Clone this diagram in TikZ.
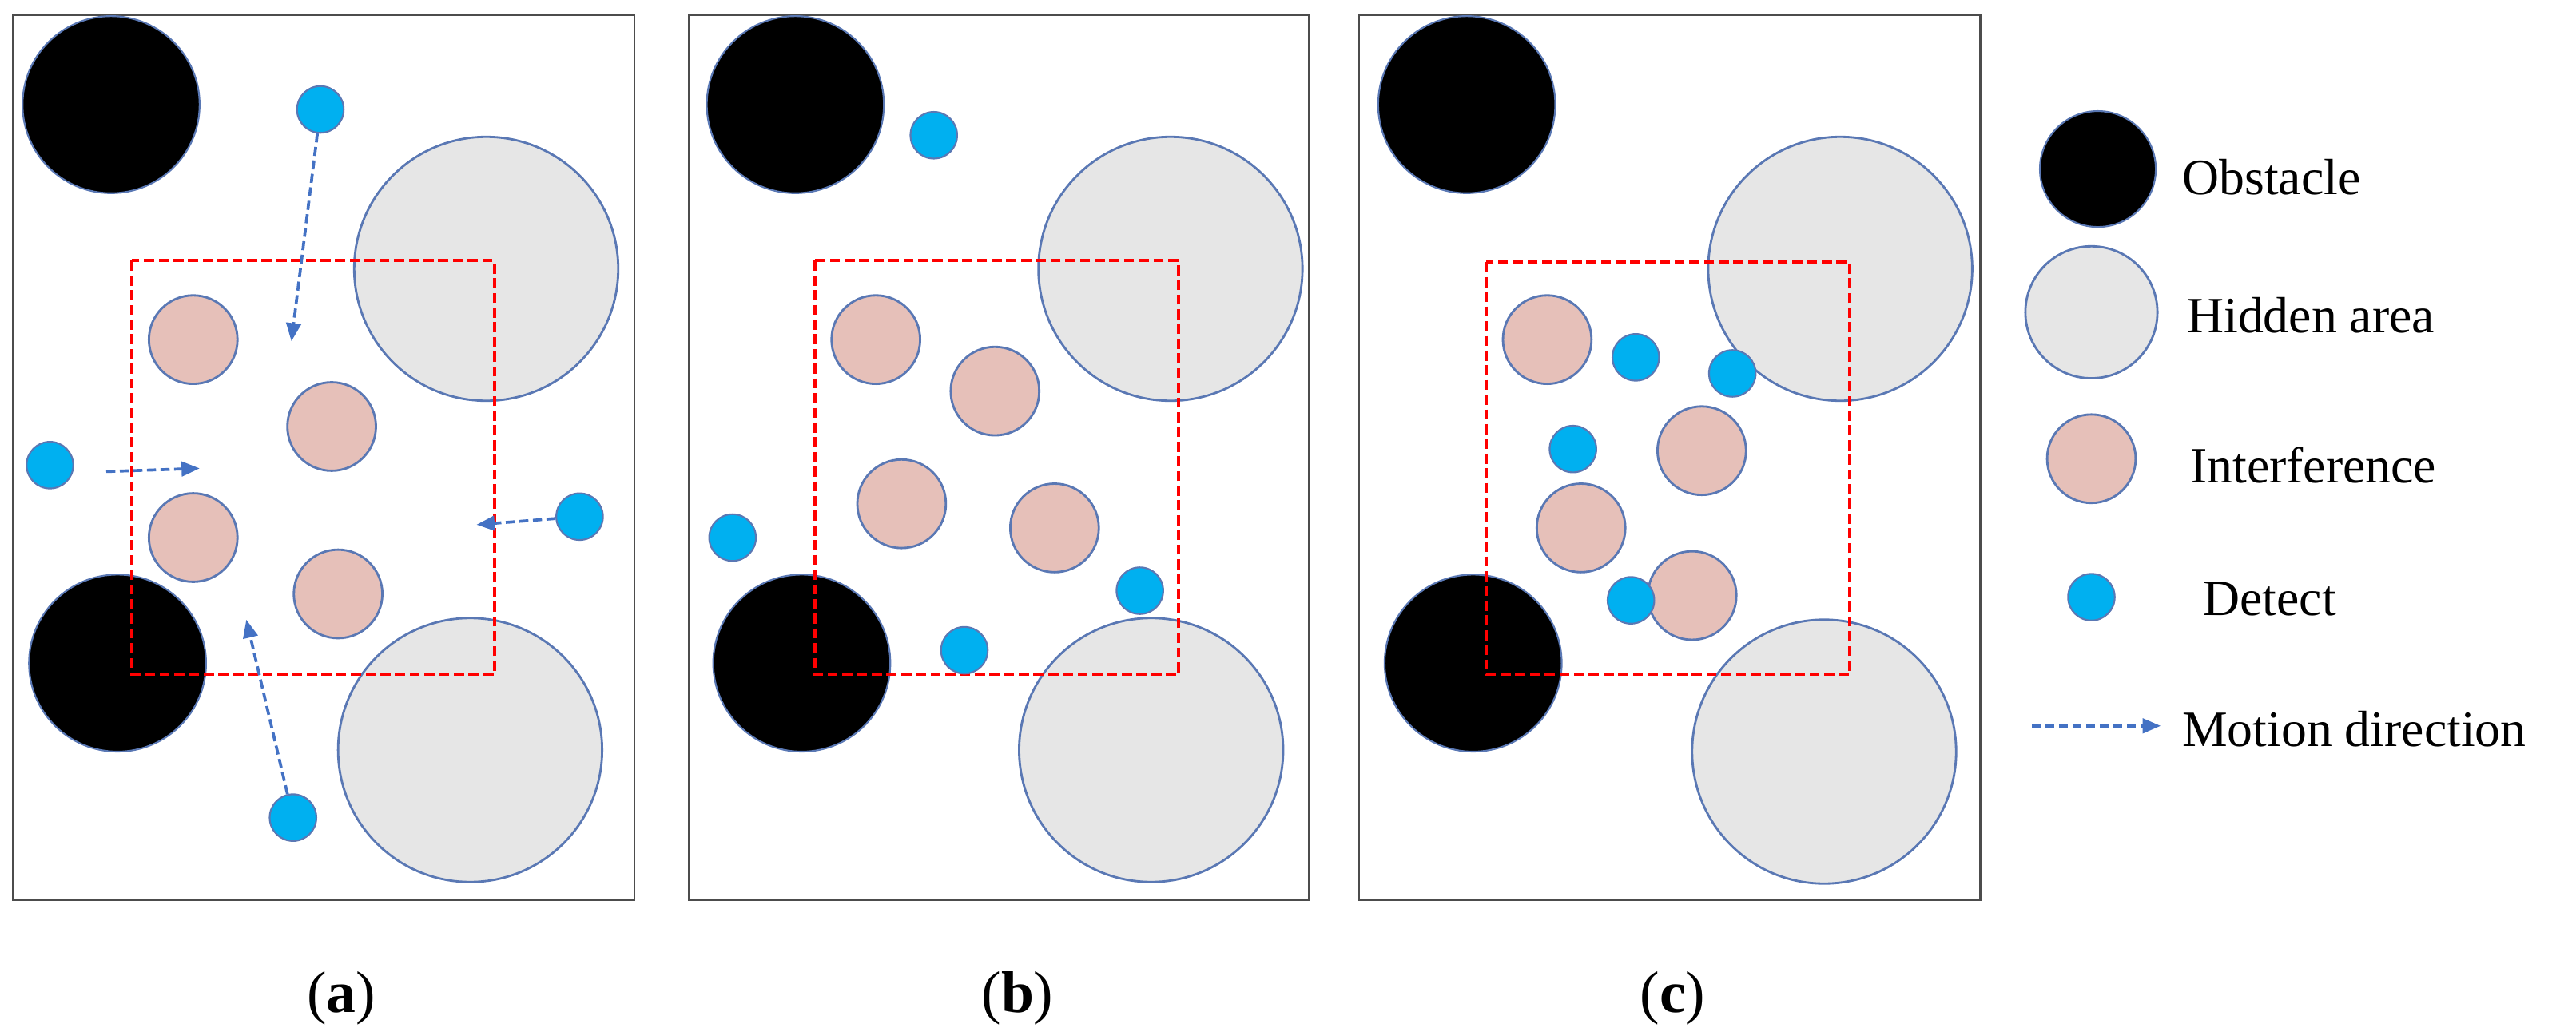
\documentclass[tikz,border=0pt]{standalone}
\usepackage{fontspec}
\setmainfont{Liberation Serif}
\usetikzlibrary{arrows.meta}
\definecolor{detblue}{HTML}{00B0F0}
\definecolor{edgeblue}{HTML}{5A78B4}
\definecolor{pinkish}{HTML}{E6C0B9}
\definecolor{lightgray}{HTML}{E6E6E6}
\definecolor{arrowblue}{HTML}{4472C4}
\begin{document}
\begin{tikzpicture}[x=0.05cm,y=-0.05cm,
	panel/.style={draw=black!70, line width=2pt},
	obstacle/.style={circle, fill=black, draw=edgeblue, line width=1.5pt, inner sep=0pt, minimum size=110*0.05cm},
	hidden/.style={circle, fill=lightgray, draw=edgeblue, line width=2pt, inner sep=0pt, minimum size=164*0.05cm},
	interf/.style={circle, fill=pinkish, draw=edgeblue, line width=2pt, inner sep=0pt, minimum size=55*0.05cm},
	detect/.style={circle, fill=detblue, draw=edgeblue, line width=1.5pt, inner sep=0pt, minimum size=29*0.05cm},
	zone/.style={draw=red, line width=2.8pt, dash pattern=on 9pt off 4pt},
	motion/.style={draw=arrowblue, line width=2.6pt, dash pattern=on 8pt off 4pt, -{Triangle[length=16pt,width=13pt]}},
	legend text/.style={anchor=west, font=\fontsize{45}{52}\selectfont},
	caption/.style={font=\fontsize{52}{60}\selectfont}]
	\useasboundingbox (0,0) rectangle (1600,643.6);

	% panel (a)
	\draw[panel] (8,9) rectangle (394,559);
	\node[obstacle] (a-o1) at (69,65) {};
	\node[obstacle] (a-o2) at (73,412) {};
	\node[hidden] (a-h1) at (302,167) {};
	\node[hidden] (a-h2) at (292,466) {};
	\draw[zone] (82,162) rectangle (307,419);
	\node[interf] (a-i1) at (120,211) {};
	\node[interf] (a-i2) at (206,265) {};
	\node[interf] (a-i3) at (120,334) {};
	\node[interf] (a-i4) at (210,369) {};
	\node[detect] (a-d1) at (199,68) {};
	\node[detect] (a-d2) at (31,289) {};
	\node[detect] (a-d3) at (360,321) {};
	\node[detect] (a-d4) at (182,508) {};
	\coordinate (a-m1) at (181,212);
	\coordinate (a-m2) at (124,291);
	\coordinate (a-m3) at (296,326);
	\coordinate (a-m4) at (153,385);
	\draw[motion] (a-d1) -- (a-m1);
	\draw[motion] (66,293) -- (a-m2);
	\draw[motion] (a-d3) -- (a-m3);
	\draw[motion] (a-d4) -- (a-m4);
	\node[caption] (a-cap) at (212,620) {(\textbf{a})};

	% panel (b)
	\draw[panel] (428,9) rectangle (813,559);
	\node[obstacle] (b-o1) at (494,65) {};
	\node[obstacle] (b-o2) at (498,412) {};
	\node[hidden] (b-h1) at (727,167) {};
	\node[hidden] (b-h2) at (715,466) {};
	\draw[zone] (506,162) rectangle (732,419);
	\node[interf] (b-i1) at (544,211) {};
	\node[interf] (b-i2) at (618,243) {};
	\node[interf] (b-i3) at (560,313) {};
	\node[interf] (b-i4) at (655,328) {};
	\node[detect] (b-d1) at (580,84) {};
	\node[detect] (b-d2) at (455,334) {};
	\node[detect] (b-d3) at (708,367) {};
	\node[detect] (b-d4) at (599,404) {};
	\node[caption] (b-cap) at (632,620) {(\textbf{b})};

	% panel (c)
	\draw[panel] (844,9) rectangle (1230,559);
	\node[obstacle] (c-o1) at (911,65) {};
	\node[obstacle] (c-o2) at (915,412) {};
	\node[hidden] (c-h1) at (1143,167) {};
	\node[hidden] (c-h2) at (1133,467) {};
	\draw[zone] (923,163) rectangle (1149,419);
	\node[interf] (c-i1) at (961,211) {};
	\node[interf] (c-i2) at (1057,280) {};
	\node[interf] (c-i3) at (982,328) {};
	\node[interf] (c-i4) at (1051,370) {};
	\node[detect] (c-d1) at (1016,222) {};
	\node[detect] (c-d2) at (1076,232) {};
	\node[detect] (c-d3) at (977,279) {};
	\node[detect] (c-d4) at (1013,373) {};
	\node[caption] (c-cap) at (1039,620) {(\textbf{c})};

	% legend
	\node[obstacle, minimum size=72*0.05cm] (l-o) at (1303,105) {};
	\node[hidden, minimum size=82*0.05cm] (l-h) at (1299,194) {};
	\node[interf] (l-i) at (1299,285) {};
	\node[detect] (l-d) at (1299,371) {};
	\coordinate (l-m1) at (1262,451);
	\coordinate (l-m2) at (1342,451);
	\draw[motion] (l-m1) -- (l-m2);
	\node[legend text] (t-o) at (1353,110) {Obstacle};
	\node[legend text] (t-h) at (1356,196) {Hidden area};
	\node[legend text] (t-i) at (1358,289) {Interference};
	\node[legend text] (t-d) at (1366,372) {Detect};
	\node[legend text] (t-m) at (1353,453) {Motion direction};
\end{tikzpicture}
\end{document}
